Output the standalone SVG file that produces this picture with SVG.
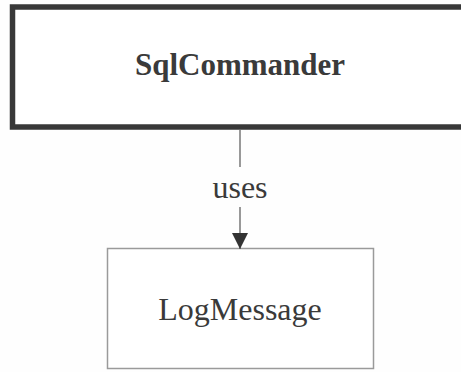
<svg xmlns="http://www.w3.org/2000/svg" width="461" height="372" viewBox="0 0 461 372">
<defs>
<style>
.lbl{font-family:"Liberation Serif","Times New Roman",serif;fill:#3a3a3a;text-anchor:middle}
.conn{stroke:#555;stroke-width:1.2;fill:none}
</style>
<marker id="arr" viewBox="0 0 16 16" refX="16" refY="8" markerWidth="16" markerHeight="16" markerUnits="userSpaceOnUse" orient="auto">
<path d="M0,0 L16,8 L0,16 Z" fill="#333"/>
</marker>
</defs>
<rect width="461" height="372" fill="#fefefe"/>
<g id="SqlCommander">
<rect x="12.5" y="7" width="470" height="120" fill="#fff" stroke="#383838" stroke-width="5.5"/>
<text class="lbl" x="240" y="75" font-size="31" font-weight="bold">SqlCommander</text>
</g>
<g id="LogMessage">
<rect x="107.5" y="248.5" width="266" height="120" fill="#fff" stroke="#9a9a9a" stroke-width="1.5"/>
<text class="lbl" x="240" y="320" font-size="32">LogMessage</text>
</g>
<g id="connectors">
<line class="conn" x1="240" y1="130" x2="240" y2="167"/>
<line class="conn" x1="240" y1="207" x2="240" y2="249" marker-end="url(#arr)"/>
<text class="lbl" x="240" y="198" font-size="32">uses</text>
</g>
</svg>
